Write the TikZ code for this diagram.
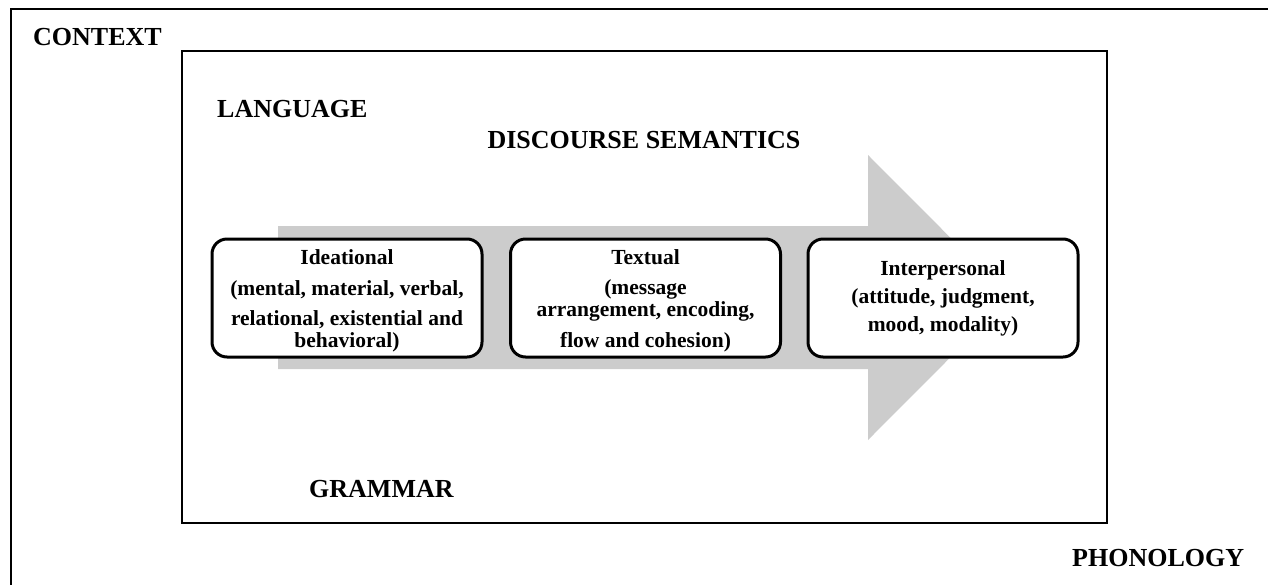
\documentclass[tikz,border=0pt]{standalone}
\usepackage{fontspec}
\setmainfont{Liberation Serif}
\begin{document}
\begin{tikzpicture}[x=1pt,y=-1pt,
  label/.style={font=\bfseries\fontsize{26}{28}\selectfont, inner sep=0pt},
  fnbox/.style={draw=black, line width=3pt, rounded corners=15pt, fill=white,
    minimum width=270pt, minimum height=118pt, inner sep=0pt, align=center,
    font=\bfseries\fontsize{21.5}{22}\selectfont},
  frame/.style={draw=black, line width=2pt}]
\useasboundingbox (0,0) rectangle (1268,584);
\clip (0,0) rectangle (1268,584);
% outer context frame (runs off the right and bottom)
\draw[frame] (11,9) rectangle (1300,620);
% language frame
\draw[frame] (182,51) rectangle (1107,523);
% broad grey arrow behind the metafunctions
\fill[fill={rgb,255:red,204;green,204;blue,204}]
  (278,226) -- (868,226) -- (868,155) -- (1010,297.5) -- (868,440)
  -- (868,369) -- (278,369) -- cycle;
% labels
\node[label, anchor=base west] (context) at (33,45) {CONTEXT};
\node[label, anchor=base west] (language) at (217,117) {LANGUAGE};
\node[label, anchor=base] (discourse) at (644,148) {DISCOURSE SEMANTICS};
\node[label, anchor=base west] (grammar) at (309,497) {GRAMMAR};
\node[label, anchor=base west] (phonology) at (1072,566) {PHONOLOGY};
% metafunction boxes
\node[fnbox] (ideational) at (347,298)
  {\rule{0pt}{21pt}Ideational\\[9pt](mental, material, verbal,\\[8pt]relational, existential and\\behavioral)};
\node[fnbox] (textual) at (645.5,298)
  {\rule{0pt}{21pt}Textual\\[8pt](message\\arrangement, encoding,\\[9pt]flow and cohesion)};
\node[fnbox] (interpersonal) at (943,298)
  {Interpersonal\\[6pt](attitude, judgment,\\[6pt]mood, modality)};
\end{tikzpicture}
\end{document}
